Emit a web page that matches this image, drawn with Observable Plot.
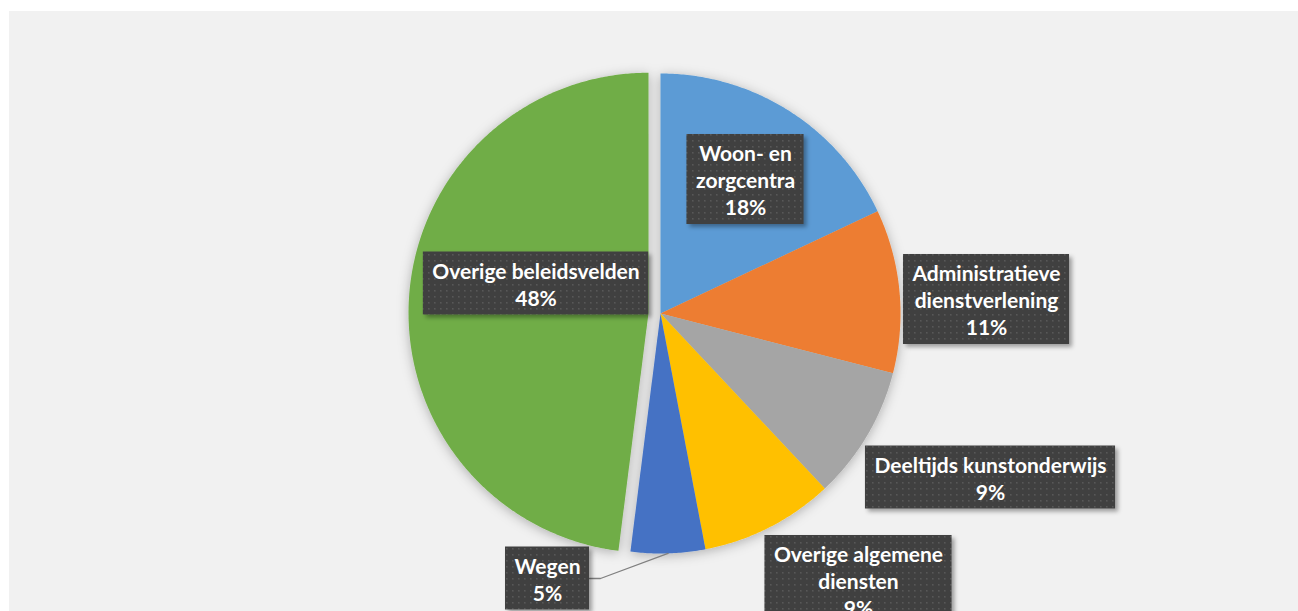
<!DOCTYPE html>
<html><head><meta charset="utf-8">
<script src="https://cdn.jsdelivr.net/npm/d3@7"></script>
<script src="https://cdn.jsdelivr.net/npm/@observablehq/plot@0.6"></script>
<style>
body{margin:0;background:#fff;}
#wrap{position:relative;width:1298px;height:611px;overflow:hidden;}
#bg{position:absolute;left:9px;top:11px;right:0;bottom:0;background:#f1f1f1;}
#chart{position:absolute;left:0;top:0;}
</style></head><body>
<div id="wrap"><div id="bg"></div><div id="chart"></div></div>
<script>
// ---- data ----
const categories = ["Woon- en zorgcentra", "Administratieve dienstverlening", "Deeltijds kunstonderwijs", "Overige algemene diensten", "Wegen", "Overige beleidsvelden"];
const shares = [18, 11, 9, 9, 5, 48];
const labelLines = [["Woon- en", "zorgcentra"], ["Administratieve", "dienstverlening"], ["Deeltijds kunstonderwijs"], ["Overige algemene", "diensten"], ["Wegen"], ["Overige beleidsvelden"]];
const colors = ["#5b9bd5", "#ed7d31", "#a5a5a5", "#ffc000", "#4472c4", "#70ad47"];

// ---- layout ----
const W = 1298, H = 611, R = 240, CX = 660, CY = 313;
const explode = [0, 0, 0, 0, 0, 0.05];
const labelCenterPx = [[745, 179], [986, 299], [990, 477], [858, 580], [547, 578], [535.5, 283]];
const leaderFor = [false, false, false, false, true, false];
const FONT = "Lato", FS = 21, LH = 27, PADX = 9, PADY = 4.5;

const toX = px => (px - CX) / R, toY = py => (CY - py) / R;

// ---- slices ----
const arcs = d3.pie().sort(null).value(d => d)(shares);
const slicePts = [];
arcs.forEach((a, i) => {
  const mid = (a.startAngle + a.endAngle) / 2;
  const ox = explode[i] * Math.sin(mid), oy = explode[i] * Math.cos(mid);
  const cat = categories[i];
  slicePts.push({cat, x: ox, y: oy});
  const n = Math.max(2, Math.ceil((a.endAngle - a.startAngle) / (Math.PI / 360)));
  for (let k = 0; k <= n; k++) {
    const t = a.startAngle + (a.endAngle - a.startAngle) * k / n;
    slicePts.push({cat, x: ox + Math.sin(t), y: oy + Math.cos(t)});
  }
  slicePts.push({cat, x: ox, y: oy});
});

// ---- labels ----
const ctx = document.createElement("canvas").getContext("2d");
ctx.font = `bold ${FS}px ${FONT}`;
const labels = categories.map((c, i) => {
  const lines = [...labelLines[i], shares[i] + "%"];
  const w = d3.max(lines, l => ctx.measureText(l).width) + 2 * PADX;
  const h = lines.length * LH + 2 * PADY;
  const [px, py] = labelCenterPx[i];
  return {cat: c, text: lines.join("\n"), x: toX(px), y: toY(py),
    x1: toX(px - w / 2), x2: toX(px + w / 2), y1: toY(py + h / 2), y2: toY(py - h / 2), rightPx: px + w / 2, py};
});

const leaders = [];
labels.forEach((l, i) => {
  if (!leaderFor[i]) return;
  const a = arcs[i], mid = (a.startAngle + a.endAngle) / 2;
  leaders.push({x: toX(l.rightPx), y: toY(l.py), k: i});
  leaders.push({x: toX(l.rightPx + 11), y: toY(l.py), k: i});
  leaders.push({x: Math.sin(mid), y: Math.cos(mid), k: i});
});

const svg = Plot.plot({
  width: W, height: H, margin: 0,
  style: {background: "transparent", fontFamily: FONT, overflow: "visible"},
  x: {domain: [toX(0), toX(W)], axis: null},
  y: {domain: [toY(H), toY(0)], axis: null},
  color: {domain: categories, range: colors},
  marks: [
    Plot.line(slicePts, {x: "x", y: "y", z: "cat", fill: "cat", stroke: "none", curve: "linear"}),
    Plot.line(leaders, {x: "x", y: "y", z: "k", stroke: "#808080", strokeWidth: 1.3}),
    Plot.rect(labels, {x1: "x1", x2: "x2", y1: "y1", y2: "y2", fill: "url(#dots)"}),
    Plot.text(labels, {x: "x", y: "y", text: "text", fill: "white", fontSize: FS, fontWeight: "bold", fontFamily: FONT, lineHeight: LH / FS, lineAnchor: "middle"})
  ]
});

svg.insertAdjacentHTML("afterbegin", `<defs>
<pattern id="dots" width="6" height="6" patternUnits="userSpaceOnUse"><rect width="6" height="6" fill="#3f3f3f"/><rect x="2" y="2" width="1.6" height="1.6" fill="#585858"/></pattern>
<filter id="boxShadow" x="-20%" y="-20%" width="140%" height="140%"><feDropShadow dx="3" dy="3" stdDeviation="2" flood-color="#000" flood-opacity="0.35"/></filter>
<filter id="pieShadow" x="-20%" y="-20%" width="140%" height="140%"><feDropShadow dx="0" dy="2" stdDeviation="6" flood-color="#000" flood-opacity="0.28"/></filter>
</defs>`);
document.getElementById("chart").appendChild(svg);
const lineGroups = svg.querySelectorAll('g[aria-label="line"]');
if (lineGroups[0]) lineGroups[0].setAttribute("filter", "url(#pieShadow)");
const boxes = svg.querySelector('g[aria-label="rect"]');
if (boxes) boxes.setAttribute("filter", "url(#boxShadow)");
</script>
</body></html>
